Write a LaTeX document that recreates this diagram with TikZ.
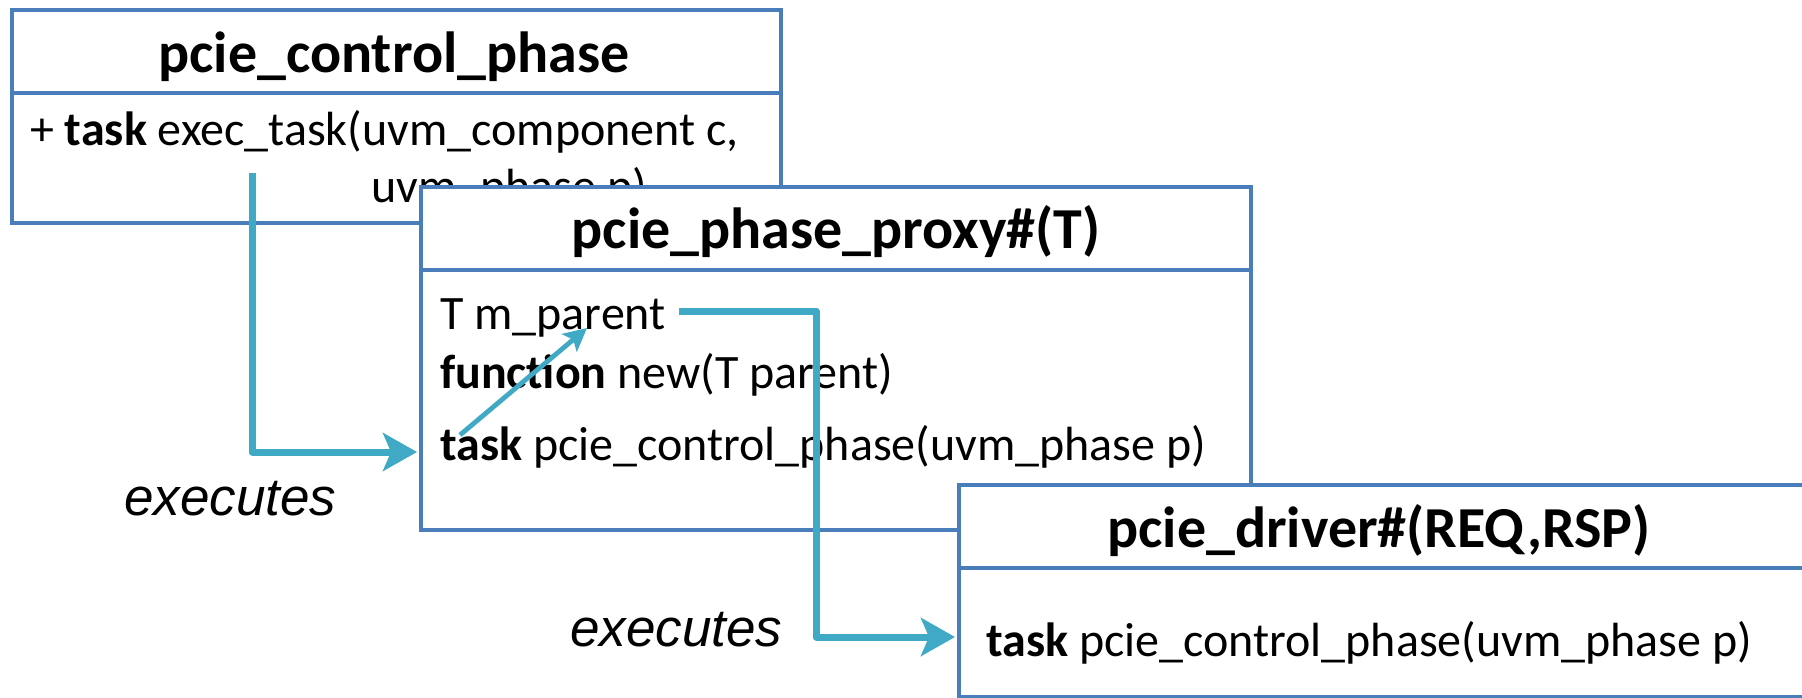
\documentclass[tikz,border=0pt]{standalone}
\usepackage{fontspec}
\setmainfont{Carlito}
\newfontfamily\labelfont{Liberation Sans}
\usetikzlibrary{arrows.meta}
\definecolor{boxblue}{HTML}{4A7EBB}
\definecolor{flowteal}{HTML}{40A9C6}

\tikzset{
  classbox/.style={draw=boxblue, line width=4.2pt, fill=white, inner sep=0pt, anchor=north west},
  divider/.style={draw=boxblue, line width=4.2pt},
  headtext/.style={anchor=base, inner sep=0pt, font=\fontsize{58}{62}\selectfont\bfseries},
  bodytext/.style={anchor=base west, inner sep=0pt, font=\fontsize{48}{54}\selectfont},
  exectext/.style={anchor=base west, inner sep=0pt, font=\labelfont\itshape\fontsize{53}{58}\selectfont},
  flow/.style={draw=flowteal, line width=7pt, line join=round,
    -{Stealth[length=34pt,width=38pt,inset=8pt]}},
  thinflow/.style={draw=flowteal, line width=4.8pt,
    -{Stealth[length=23pt,width=23pt,inset=5pt]}},
}

\begin{document}
\begin{tikzpicture}[x=1pt,y=-1pt]
\useasboundingbox (0,0) rectangle (1802,698);

% pcie_control_phase
\node[classbox, minimum width=769pt, minimum height=213pt] (c1) at (10,8) {};
\draw[divider] (c1.west |- 0,93) -- (c1.east |- 0,93);
\node[headtext] (h1) at (394,73) {pcie\_control\_phase};
\node[bodytext] (b1a) at (30,146) {+ \textbf{task} exec\_task(uvm\_component c,};
\node[bodytext] (b1b) at (371,202) {uvm\_phase p)};

% pcie_phase_proxy#(T)
\node[classbox, minimum width=830pt, minimum height=343pt] (c2) at (419,185) {};
\draw[divider] (c2.west |- 0,270) -- (c2.east |- 0,270);
\node[headtext] (h2) at (836,248) {pcie\_phase\_proxy\#(T)};
\node[bodytext] (b2a) at (440,329) {T m\_parent};
\node[bodytext] (b2b) at (440,388) {\textbf{function} new(T parent)};
\node[bodytext] (b2c) at (440,460) {\textbf{task} pcie\_control\_phase(uvm\_phase p)};

% pcie_driver#(REQ,RSP)
\node[classbox, minimum width=900pt, minimum height=212pt] (c3) at (957,483) {};
\draw[divider] (c3.west |- 0,568) -- (c3.east |- 0,568);
\node[headtext] (h3) at (1379,547) {pcie\_driver\#(REQ,RSP)};
\node[bodytext] (b3) at (986,656) {\textbf{task} pcie\_control\_phase(uvm\_phase p)};

% labels
\node[exectext] (ex1) at (124,515) {executes};
\node[exectext] (ex2) at (570,646) {executes};

% connectors
\coordinate (a1s) at (252,173);
\coordinate (a1e) at (417,452);
\coordinate (a2s) at (679,311);
\coordinate (a2m) at (816,470);
\coordinate (a2e) at (955,637);
\coordinate (a3s) at (460,435);
\coordinate (a3e) at (587,328);
\draw[flow] (a1s) |- (a1e);
\draw[flow] (a2s) -| (a2m) |- (a2e);
\draw[thinflow] (a3s) -- (a3e);
\end{tikzpicture}
\end{document}
